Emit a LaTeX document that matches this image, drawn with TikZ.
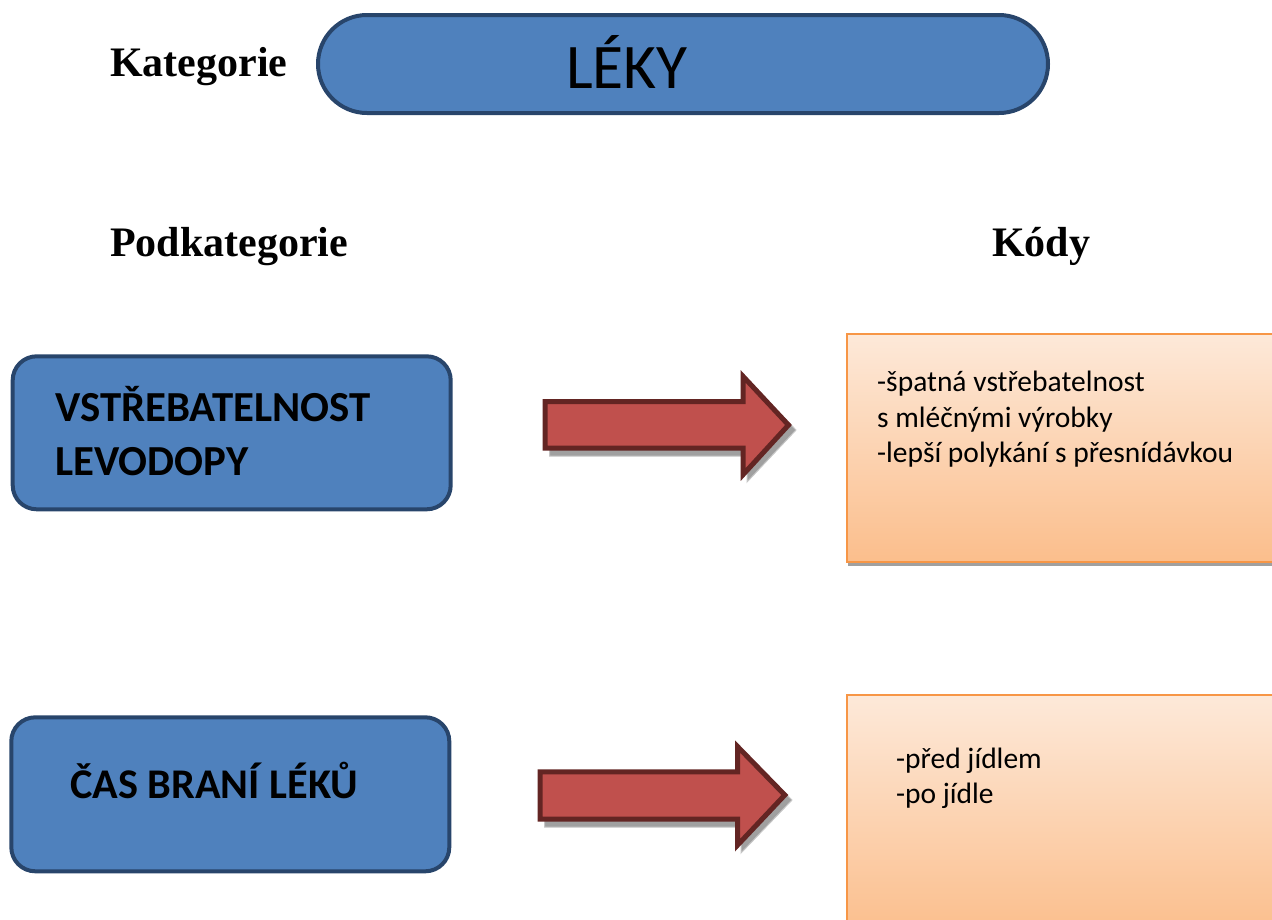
\documentclass[tikz,border=0pt]{standalone}
\usepackage{fontspec}
\setmainfont{Liberation Serif}
\newfontfamily\calib{Carlito}
\usetikzlibrary{shapes.misc}
\definecolor{blfill}{HTML}{4F81BD}
\definecolor{bldraw}{HTML}{28456B}
\definecolor{arfill}{HTML}{C0504D}
\definecolor{ardraw}{HTML}{632523}
\definecolor{ordraw}{HTML}{F79646}
\definecolor{ortop}{HTML}{FDE9D9}
\definecolor{orbot}{HTML}{FBBE8C}
\definecolor{shad}{HTML}{A0A0A0}
\tikzset{
  heading/.style={font=\fontsize{42}{50}\selectfont\bfseries, inner sep=0pt, anchor=base west},
  bluebox/.style={draw=bldraw, fill=blfill, line width=4pt, rounded corners=24pt},
  boxtext/.style={font=\calib\fontsize{42.8}{54}\selectfont\bfseries, inner sep=0pt, anchor=base west, align=left},
  codebox/.style={draw=ordraw, line width=2pt, top color=ortop, bottom color=orbot},
  codetext/.style={font=\calib\fontsize{29.5}{35.5}\selectfont, inner sep=0pt, anchor=base west, align=left},
  blockarrow/.style={draw=ardraw, fill=arfill, line width=5pt, line join=miter},
  arrowshadow/.style={fill=shad, draw=shad!60, line width=1pt}
}
\begin{document}
\begin{tikzpicture}[x=1pt,y=-1pt]
\useasboundingbox (0,0) rectangle (1272,919);
\clip (0,0) rectangle (1272,919);

% top category
\node[heading] (kat) at (110,76.7) {Kategorie};
\node[draw=bldraw, fill=blfill, line width=4pt, rounded rectangle, minimum width=730pt, minimum height=98pt, inner sep=0pt] (leky) at (683,64) {};
\node[font=\calib\fontsize{63.5}{70}\selectfont, inner sep=0pt, anchor=base west] (lekytext) at (566,88) {LÉKY};

% headings
\node[heading] (podkat) at (110,256.7) {Podkategorie};
\node[heading] (kody) at (992,256.7) {Kódy};

% left boxes
\node[bluebox, minimum width=438pt, minimum height=153pt, inner sep=0pt] (vstr) at (231.7,432.8) {};
\node[boxtext] (vstrtext) at (55,475.7) {VSTŘEBATELNOST\\LEVODOPY};
\node[bluebox, minimum width=438pt, minimum height=154pt, inner sep=0pt] (cas) at (230.3,794.3) {};
\node[boxtext, font=\calib\fontsize{42.3}{54}\selectfont\bfseries] (castext) at (70,798) {ČAS BRANÍ LÉKŮ};

% code boxes (with shadows)
\fill[shad] (848,336) rectangle (1290,566);
\node[codebox, minimum width=440pt, minimum height=228pt, inner sep=0pt, anchor=north west] (kod1) at (846,333) {};
\node[codetext] (kod1text) at (877,462.5) {-špatná vstřebatelnost\\s mléčnými výrobky\\-lepší polykání s přesnídávkou};
\fill[shad] (848,697) rectangle (1290,930);
\node[codebox, minimum width=440pt, minimum height=240pt, inner sep=0pt, anchor=north west] (kod2) at (846,694) {};
\node[codetext] (kod2text) at (896,803.5) {-před jídlem\\-po jídle};

% block arrows
\path[arrowshadow] (549.5,407) -- (747,407) -- (747,380) -- (796,430) -- (747,482) -- (747,456) -- (549.5,456) -- cycle;
\path[blockarrow] (545.2,401.5) -- (743.2,401.5) -- (743.2,376.5) -- (788.5,425) -- (743.2,474.5) -- (743.2,448.2) -- (545.2,448.2) -- cycle;

\path[arrowshadow] (544.5,777) -- (741,777) -- (741,750) -- (792,800) -- (741,853) -- (741,827) -- (544.5,827) -- cycle;
\path[blockarrow] (540.2,771.8) -- (737.5,771.8) -- (737.5,746.5) -- (784.8,795) -- (737.5,845.2) -- (737.5,819.2) -- (540.2,819.2) -- cycle;
\end{tikzpicture}
\end{document}
